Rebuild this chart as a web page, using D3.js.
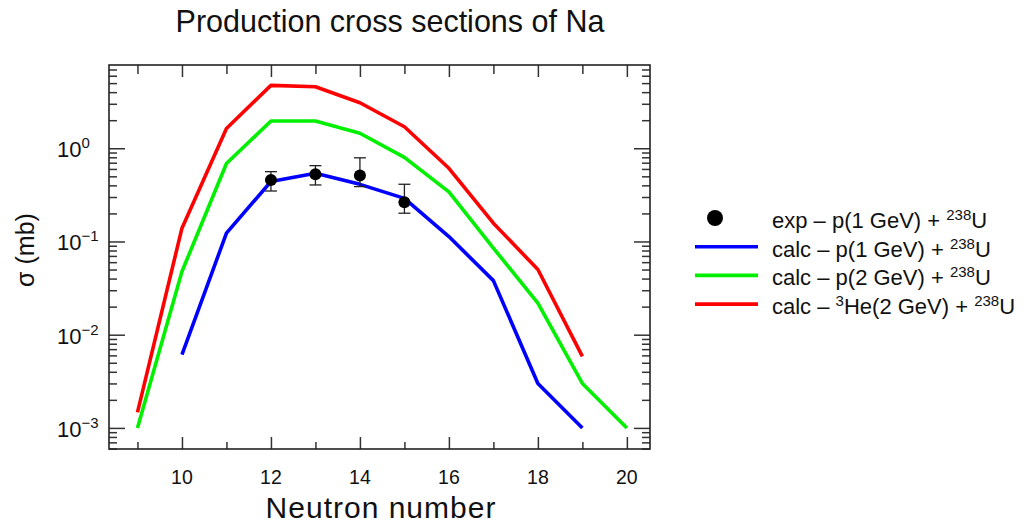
<!DOCTYPE html>
<html>
<head>
<meta charset="utf-8">
<script src="https://cdn.jsdelivr.net/npm/d3@7"></script>
<style>
  body { margin: 0; background: #fff; }
  svg text { font-family: "Liberation Sans", Arial, sans-serif; fill: #111; }
</style>
</head>
<body>
<script>
// neutron numbers on the x axis
const neutrons = [9, 10, 11, 12, 13, 14, 15, 16, 17, 18, 19, 20];

// calculated cross sections (mb), null where no point
const calcP1GeV = [null, 0.0061, 0.123, 0.44, 0.54, 0.41, 0.29, 0.113, 0.038, 0.003, 0.001, null];
const calcP2GeV = [0.001, 0.0476, 0.686, 1.96, 1.96, 1.45, 0.80, 0.34, 0.085, 0.0218, 0.003, 0.001];
const calcHe2GeV = [0.00147, 0.139, 1.63, 4.73, 4.57, 3.08, 1.70, 0.61, 0.157, 0.050, 0.00585, null];

// measured points p(1 GeV) + 238U
const expN = [12, 13, 14, 15];
const expValue = [0.457, 0.526, 0.509, 0.264];
const expLow = [0.348, 0.404, 0.388, 0.201];
const expHigh = [0.561, 0.651, 0.79, 0.411];

const xMajorTicks = [10, 12, 14, 16, 18, 20];
const xMinorTicks = [9, 11, 13, 15, 17, 19];
const yDecades = [-3, -2, -1, 0];

const width = 1034, height = 526;
const plot = {left: 109, right: 650, top: 65, bottom: 449};

const svg = d3.select('body').append('svg')
    .attr('width', width)
    .attr('height', height);

const x = d3.scaleLinear().domain([8.36, 20.52]).range([plot.left, plot.right]);
const y = d3.scaleLog().domain([5.94e-4, 7.82]).range([plot.bottom, plot.top]);

// title
svg.append('text')
    .attr('x', 390).attr('y', 32)
    .attr('text-anchor', 'middle')
    .style('font-size', '30.5px')
    .text('Production cross sections of Na');

// ticks, all pointing inwards
const yMinor = y.ticks().filter(v => {
    const m = Math.round(v / Math.pow(10, Math.floor(Math.log10(v) + 1e-9)));
    return m !== 1;
});
const yMajor = yDecades.map(e => Math.pow(10, e));

function tickAxis(axis, pos, vals, size) {
    const g = svg.append('g')
        .attr('transform', pos)
        .call(axis.tickValues(vals).tickSize(size).tickFormat(''));
    g.select('.domain').remove();
    g.selectAll('line').attr('stroke', '#333').attr('stroke-width', 1.5);
    return g;
}

tickAxis(d3.axisBottom(x), `translate(0,${plot.bottom})`, xMajorTicks, -12);
tickAxis(d3.axisBottom(x), `translate(0,${plot.bottom})`, xMinorTicks, -7);
tickAxis(d3.axisTop(x), `translate(0,${plot.top})`, xMajorTicks, -12);
tickAxis(d3.axisTop(x), `translate(0,${plot.top})`, xMinorTicks, -9);
tickAxis(d3.axisLeft(y), `translate(${plot.left},0)`, yMajor, -16);
tickAxis(d3.axisLeft(y), `translate(${plot.left},0)`, yMinor, -8);
tickAxis(d3.axisRight(y), `translate(${plot.right},0)`, yMajor, -16);
tickAxis(d3.axisRight(y), `translate(${plot.right},0)`, yMinor, -8);

// frame
svg.append('rect')
    .attr('x', plot.left).attr('y', plot.top)
    .attr('width', plot.right - plot.left).attr('height', plot.bottom - plot.top)
    .attr('fill', 'none')
    .attr('stroke', '#222')
    .attr('stroke-width', 1.6);

// x tick labels
svg.append('g').selectAll('text')
    .data(xMajorTicks)
    .join('text')
    .attr('x', d => x(d))
    .attr('y', 484)
    .attr('text-anchor', 'middle')
    .style('font-size', '19.5px')
    .text(d => d);

// y tick labels 10^n
const yLab = svg.append('g').selectAll('text')
    .data(yDecades)
    .join('text')
    .attr('x', 57)
    .attr('y', d => y(Math.pow(10, d)) + 9)
    .style('font-size', '22px');
yLab.append('tspan').text('10');
yLab.append('tspan')
    .attr('dy', -9)
    .style('font-size', '15px')
    .text(d => d < 0 ? '\u2212' + (-d) : d);

// axis titles
svg.append('text')
    .attr('x', 381).attr('y', 518)
    .attr('text-anchor', 'middle')
    .style('font-size', '30px')
    .style('letter-spacing', '1px')
    .text('Neutron number');

svg.append('text')
    .attr('transform', 'translate(34,250) rotate(-90)')
    .attr('text-anchor', 'middle')
    .style('font-size', '25px')
    .text('\u03c3 (mb)');

// calculated curves
const series = [
    {values: calcP1GeV, color: '#0000ff'},
    {values: calcP2GeV, color: '#00f000'},
    {values: calcHe2GeV, color: '#ff0000'}
];

const line = d3.line()
    .defined(d => d[1] != null)
    .x(d => x(d[0]))
    .y(d => y(d[1]));

const curves = svg.append('g');
// red and green first, blue on top near the data points
[series[2], series[1], series[0]].forEach(s => {
    curves.append('path')
        .datum(neutrons.map((n, i) => [n, s.values[i]]))
        .attr('fill', 'none')
        .attr('stroke', s.color)
        .attr('stroke-width', 3.6)
        .attr('stroke-linejoin', 'round')
        .attr('d', line);
});

// experimental points with error bars
const exp = expN.map((n, i) => ({n, v: expValue[i], lo: expLow[i], hi: expHigh[i]}));
const pts = svg.append('g');
pts.selectAll('.err')
    .data(exp)
    .join('line')
    .attr('x1', d => x(d.n)).attr('x2', d => x(d.n))
    .attr('y1', d => y(d.lo)).attr('y2', d => y(d.hi))
    .attr('stroke', '#222').attr('stroke-width', 1.3);
['lo', 'hi'].forEach(k => {
    pts.selectAll('.cap-' + k)
        .data(exp)
        .join('line')
        .attr('class', 'cap-' + k)
        .attr('x1', d => x(d.n) - 6).attr('x2', d => x(d.n) + 6)
        .attr('y1', d => y(d[k])).attr('y2', d => y(d[k]))
        .attr('stroke', '#222').attr('stroke-width', 1.3);
});
pts.selectAll('circle')
    .data(exp)
    .join('circle')
    .attr('cx', d => x(d.n))
    .attr('cy', d => y(d.v))
    .attr('r', 6)
    .attr('fill', '#000');

// legend
const legend = svg.append('g').style('font-size', '22px');
legend.append('circle')
    .attr('cx', 715).attr('cy', 218).attr('r', 8).attr('fill', '#000');

const legendRows = [
    {color: null, pre: '', main: 'exp \u2013 p(1 GeV) + '},
    {color: '#0000ff', pre: '', main: 'calc \u2013 p(1 GeV) + '},
    {color: '#00f000', pre: '', main: 'calc \u2013 p(2 GeV) + '},
    {color: '#ff0000', pre: 'calc \u2013 ', main: 'He(2 GeV) + ', sup3: true}
];

legendRows.forEach((r, i) => {
    const base = 228 + i * 28.7;
    if (r.color) {
        legend.append('line')
            .attr('x1', 695).attr('x2', 758)
            .attr('y1', base - 10).attr('y2', base - 10)
            .attr('stroke', r.color).attr('stroke-width', 3.6);
    }
    const t = legend.append('text').attr('x', 772).attr('y', base);
    if (r.sup3) {
        t.append('tspan').text(r.pre);
        t.append('tspan').attr('dy', -8).style('font-size', '15px').text('3');
        t.append('tspan').attr('dy', 8).text(r.main);
    } else {
        t.append('tspan').text(r.main);
    }
    t.append('tspan').attr('dy', -8).style('font-size', '15px').text('238');
    t.append('tspan').attr('dy', 8).text('U');
});
</script>
</body>
</html>
